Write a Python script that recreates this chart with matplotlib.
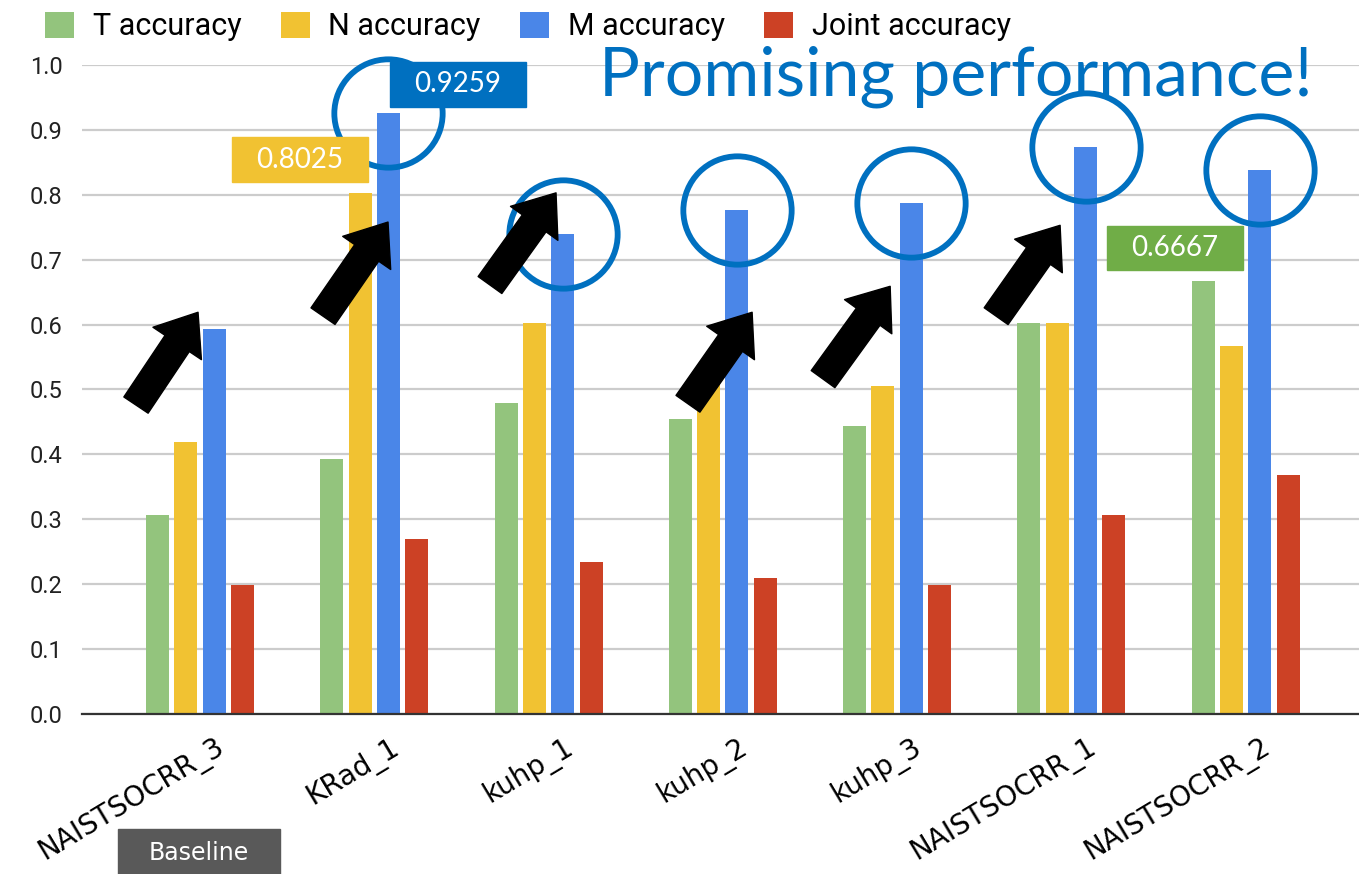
import numpy as np
import matplotlib.pyplot as plt
from matplotlib.patches import FancyArrowPatch, Rectangle
import matplotlib.transforms as mtransforms

# data
runs = ["NAISTSOCRR_3", "KRad_1", "kuhp_1", "kuhp_2", "kuhp_3", "NAISTSOCRR_1", "NAISTSOCRR_2"]
t_acc = [0.307, 0.393, 0.479, 0.455, 0.444, 0.602, 0.6667]
n_acc = [0.419, 0.8025, 0.602, 0.53, 0.505, 0.602, 0.567]
m_acc = [0.593, 0.9259, 0.740, 0.777, 0.787, 0.874, 0.838]
j_acc = [0.199, 0.270, 0.234, 0.210, 0.199, 0.307, 0.368]
series_names = ["T accuracy", "N accuracy", "M accuracy", "Joint accuracy"]
colors = ["#93C47D", "#F1C232", "#4A86E8", "#CC4125"]

# highlighted values and which bar they belong to
callouts = [("0.9259", 1, "#0070C0"), ("0.8025", 1, "#F1C232"), ("0.6667", 6, "#70AD47")]

fig = plt.figure(figsize=(13.59, 8.74), dpi=100)
ax = fig.add_axes([0.0603, 0.1831, 0.9397, 0.7425])

x = np.arange(len(runs))
step = 0.1625
width = 0.132
bars = []
for k, vals in enumerate([t_acc, n_acc, m_acc, j_acc]):
    b = ax.bar(x + (k - 1.5) * step, vals, width, color=colors[k], label=series_names[k], zorder=2)
    bars.append(b)

ax.set_xlim(-0.677, 6.65)
ax.set_ylim(0, 1.0)
ax.set_yticks(np.arange(0, 1.01, 0.1))
ax.set_yticklabels([f"{v:.1f}" for v in np.arange(0, 1.01, 0.1)], fontsize=17, family="Roboto", color="#222222")
ax.yaxis.grid(True, color="#CCCCCC", linewidth=1.6, zorder=0)
ax.tick_params(axis="y", length=0, pad=14)
ax.tick_params(axis="x", length=0, pad=8)
for s in ["top", "right", "left"]:
    ax.spines[s].set_visible(False)
ax.spines["bottom"].set_color("#333333")
ax.spines["bottom"].set_linewidth(1.6)
ax.spines["bottom"].set_zorder(3)
ax.set_xticks(x)
ax.set_xticklabels(runs, rotation=31, ha="right", rotation_mode="anchor", fontsize=20, family="DejaVu Sans")
for lbl in ax.get_xticklabels():
    lbl.set_transform(lbl.get_transform() + mtransforms.ScaledTranslation(0.15, -0.08, fig.dpi_scale_trans))

# circles around the M accuracy bar tops (all but the baseline)
mx = x + 0.5 * step
ax.plot(mx[1:], m_acc[1:], "o", ms=78, mfc="none", mec="#0070C0", mew=4.2, zorder=5, clip_on=False)

# black arrows pointing up-right
arrows = [((-0.367, 0.476), (-0.011, 0.619)),
          ((0.706, 0.613), (1.079, 0.758)),
          ((1.664, 0.661), (2.043, 0.803)),
          ((2.80, 0.478), (3.168, 0.619)),
          ((3.575, 0.516), (3.96, 0.659)),
          ((4.568, 0.613), (4.935, 0.753))]
for tail, tip in arrows:
    ax.add_patch(FancyArrowPatch(tail, tip, arrowstyle="simple,tail_width=1.05,head_width=2.1,head_length=1.35",
                                 mutation_scale=20, color="black", zorder=6, shrinkA=0, shrinkB=0))

# value boxes
box_pos = {"0.9259": (1.48, 0.970), "0.8025": (0.574, 0.854), "0.6667": (5.595, 0.718)}
for txt, idx, c in callouts:
    cx, cy = box_pos[txt]
    ax.add_patch(Rectangle((cx - 0.39, cy - 0.0345), 0.78, 0.069, color=c, zorder=7, clip_on=False))
    ax.text(cx, cy, txt, color="white", fontsize=20, family="Lato", ha="center", va="center", zorder=8)

ax.text(0.684, 0.982, "Promising performance!", transform=ax.transAxes, color="#0070C0",
        fontsize=49, family="Lato", ha="center", va="center", zorder=8)

# baseline tag below the first run
tr = mtransforms.blended_transform_factory(ax.transData, fig.transFigure)
ax.add_patch(Rectangle((-0.47, 0.0), 0.93, 0.051, transform=tr, color="#595959", clip_on=False, zorder=8))
ax.text(-0.005, 0.024, "Baseline", transform=tr, color="white", fontsize=17, family="DejaVu Sans",
        ha="center", va="center", zorder=9)

fig.legend(handles=bars, labels=series_names, loc="upper left", bbox_to_anchor=(0.013, 1.018), ncol=4,
           frameon=False, prop={"family": "Roboto", "size": 22}, handlelength=0.95,
           handleheight=0.95, columnspacing=1.3, handletextpad=0.6)

fig.savefig("out.png", dpi=100)
